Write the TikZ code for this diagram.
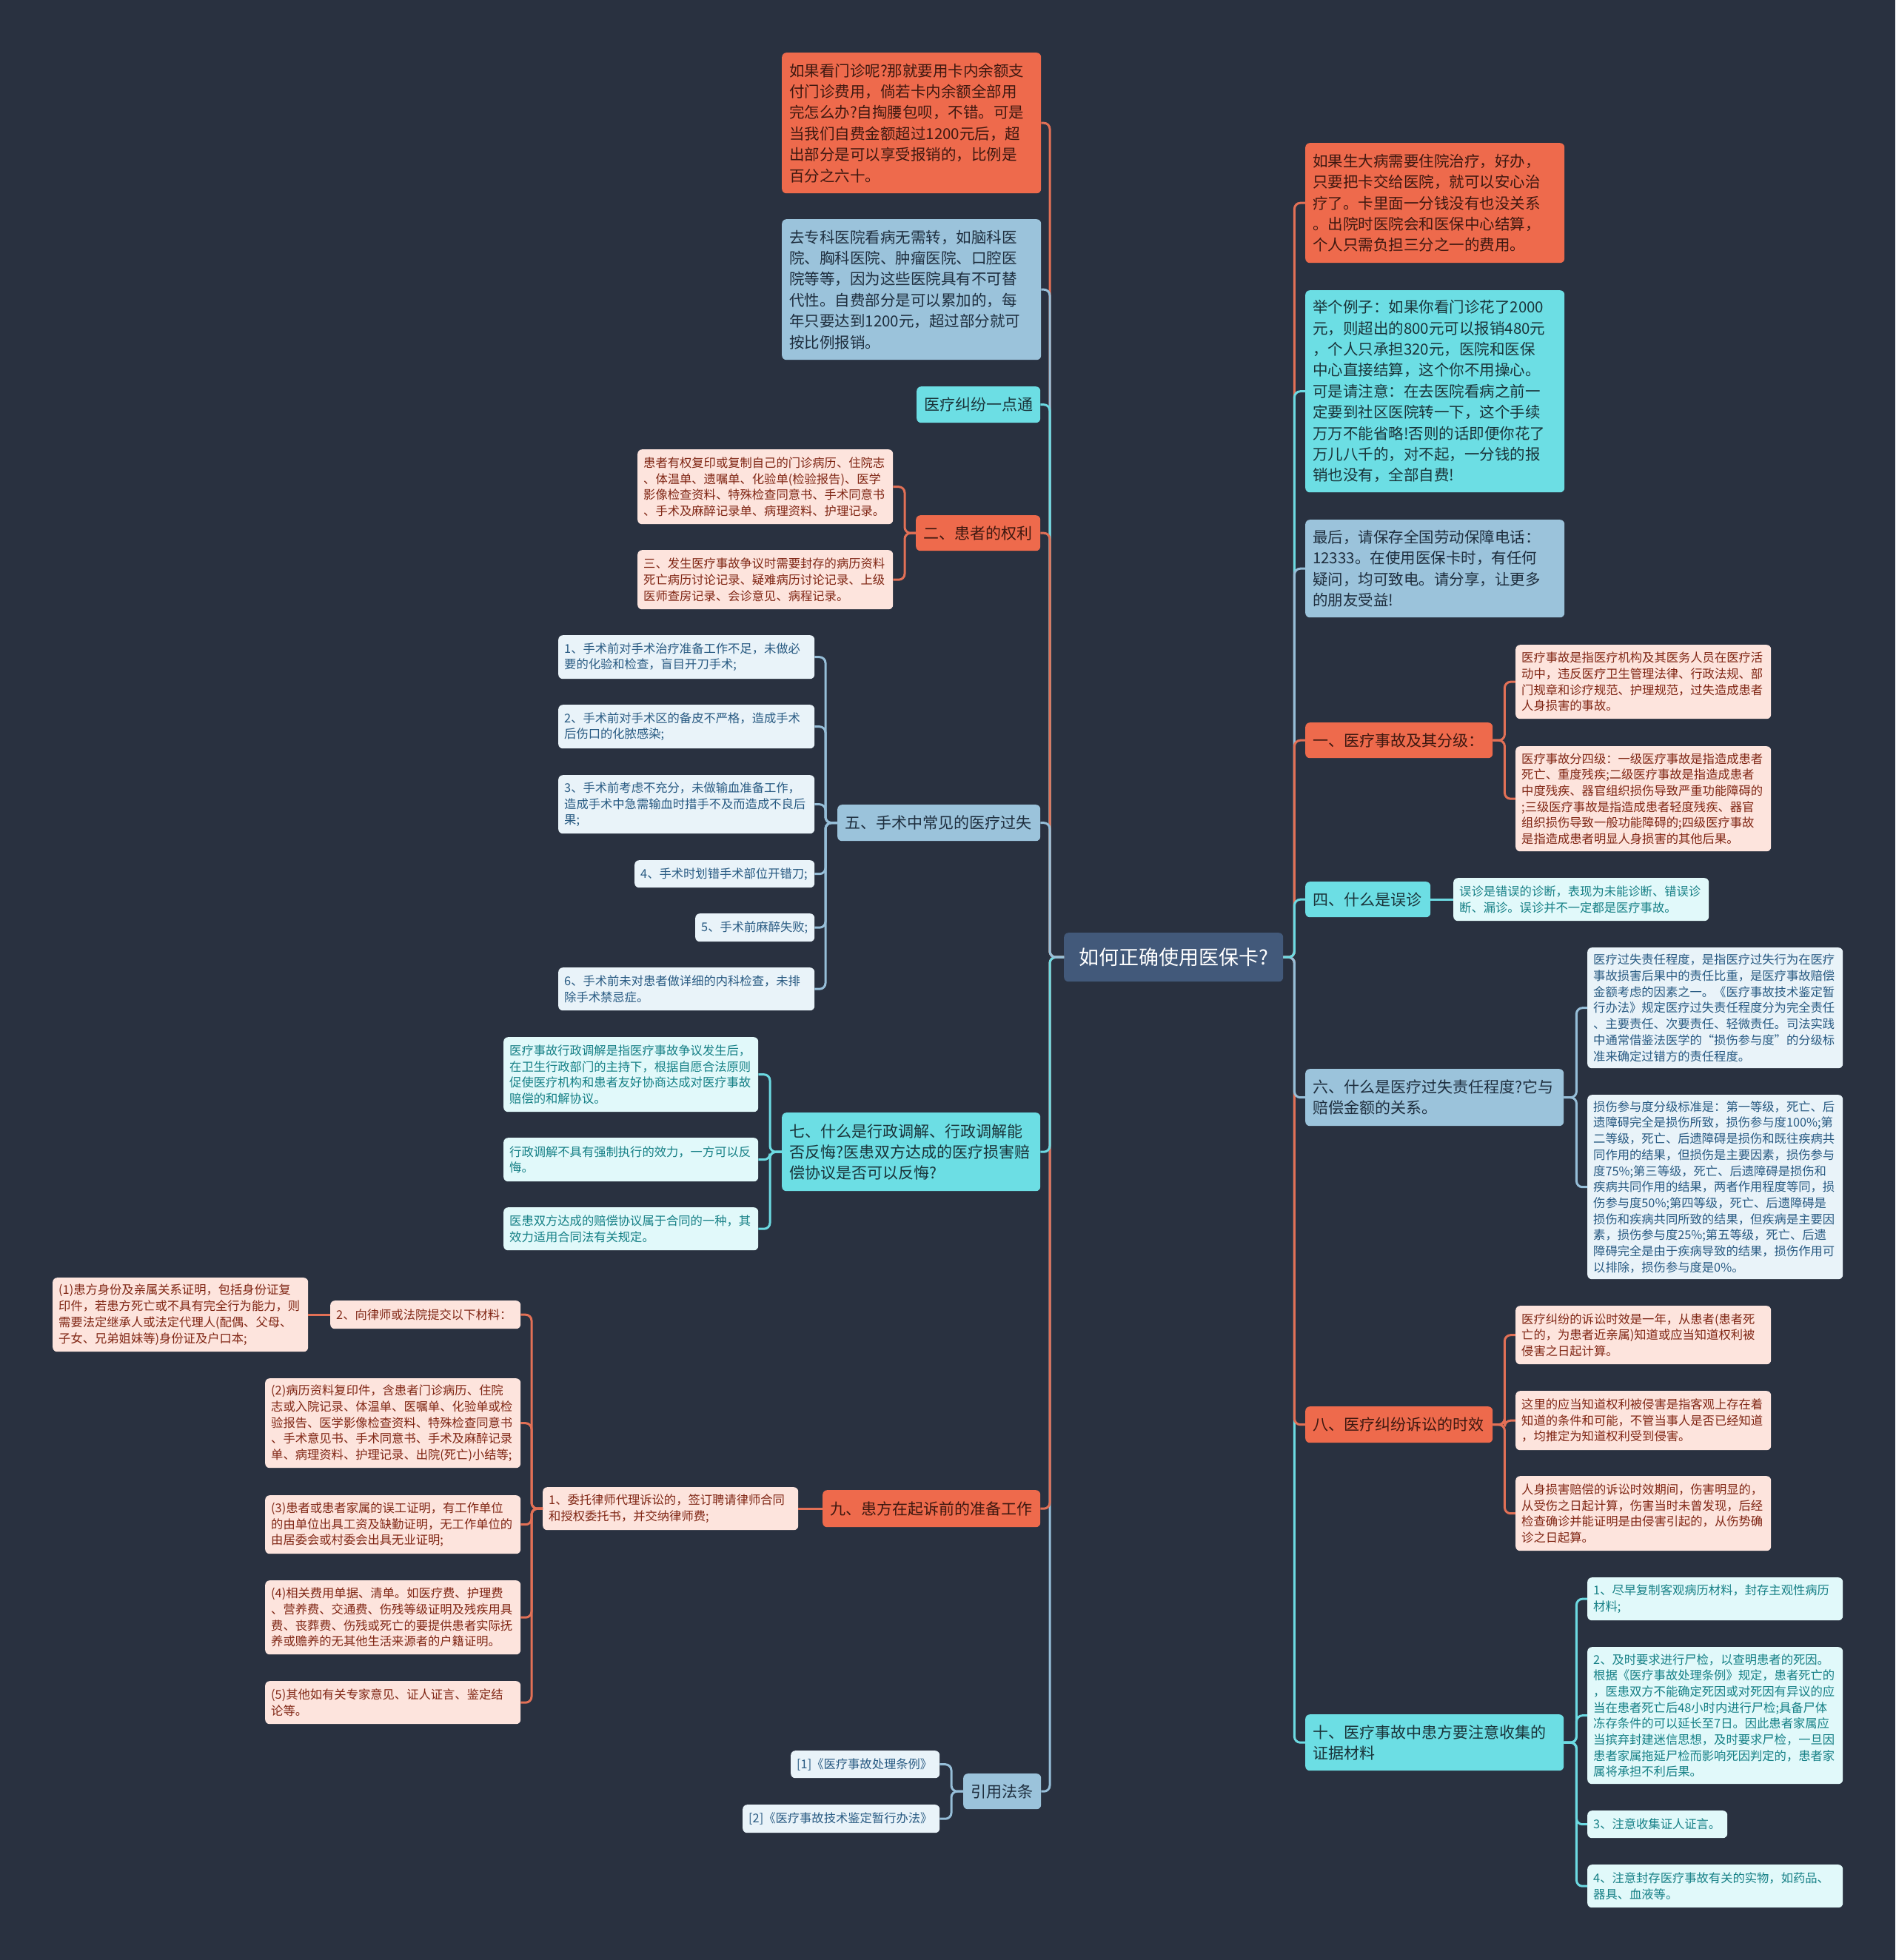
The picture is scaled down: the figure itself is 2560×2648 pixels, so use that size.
\documentclass[tikz,border=0pt]{standalone}
\usepackage{fontspec}
\setmainfont{Noto Sans CJK SC}
\definecolor{cBg}{RGB}{41,49,64}
\definecolor{cRoot}{RGB}{66,89,122}
\definecolor{cOr}{RGB}{238,106,76}
\definecolor{cCy}{RGB}{108,222,228}
\definecolor{cBl}{RGB}{155,195,219}
\definecolor{tOr}{RGB}{62,24,16}
\definecolor{tCy}{RGB}{26,52,58}
\definecolor{tBl}{RGB}{30,46,62}
\definecolor{lOr}{RGB}{253,228,221}
\definecolor{lCy}{RGB}{225,249,250}
\definecolor{lBl}{RGB}{233,243,249}
\definecolor{ltOr}{RGB}{128,38,20}
\definecolor{ltCy}{RGB}{22,128,134}
\definecolor{ltBl}{RGB}{40,90,130}
\definecolor{kOr}{RGB}{226,112,86}
\definecolor{kCy}{RGB}{108,218,226}
\definecolor{kBl}{RGB}{150,190,216}
\tikzset{
  box/.style={anchor=north west, rounded corners=6pt, align=left, inner ysep=3pt},
  rootbox/.style={box, fill=cRoot, text=white, inner xsep=20pt, align=center, font=\fontsize{27}{34}\selectfont},
  orgL/.style={box, fill=cOr, text=tOr, inner xsep=10pt, font=\fontsize{21}{28}\selectfont},
  cyaL/.style={box, fill=cCy, text=tCy, inner xsep=10pt, font=\fontsize{21}{28}\selectfont},
  bluL/.style={box, fill=cBl, text=tBl, inner xsep=10pt, font=\fontsize{21}{28}\selectfont},
  orgBig/.style={orgL, font=\fontsize{20.5}{28.4}\selectfont},
  cyaBig/.style={cyaL, font=\fontsize{20.5}{28.4}\selectfont},
  bluBig/.style={bluL, font=\fontsize{20.5}{28.4}\selectfont},
  orgLeaf/.style={box, fill=lOr, text=ltOr, inner xsep=8pt, font=\fontsize{16.3}{21.7}\selectfont},
  cyaLeaf/.style={box, fill=lCy, text=ltCy, inner xsep=8pt, font=\fontsize{16.3}{21.7}\selectfont},
  bluLeaf/.style={box, fill=lBl, text=ltBl, inner xsep=8pt, font=\fontsize{16.3}{21.7}\selectfont},
  link/.style={line width=3pt, rounded corners=8pt},
  orgLink/.style={link, draw=kOr},
  cyaLink/.style={link, draw=kCy},
  bluLink/.style={link, draw=kBl},
}
\begin{document}
\begin{tikzpicture}[x=1pt,y=-1pt]
\fill[cBg] (0,0) rectangle (2560,2648);
\useasboundingbox (0,0) rectangle (2560,2648);

% root
\node[rootbox, text width=256pt, minimum height=66pt] (root) at (1437,1260) {如何正确使用医保卡?};

% ---------- left side ----------
\node[orgBig, text width=330pt, minimum height=190pt] (L1) at (1056,71) {如果看门诊呢?那就要用卡内余额支\\付门诊费用，倘若卡内余额全部用\\完怎么办?自掏腰包呗，不错。可是\\当我们自费金额超过1200元后，超\\出部分是可以享受报销的，比例是\\百分之六十。};
\node[bluBig, text width=330pt, minimum height=190pt] (L2) at (1056,296) {去专科医院看病无需转，如脑科医\\院、胸科医院、肿瘤医院、口腔医\\院等等，因为这些医院具有不可替\\代性。自费部分是可以累加的，每\\年只要达到1200元，超过部分就可\\按比例报销。};
\node[cyaL, text width=147pt, minimum height=49pt] (L3) at (1238,522) {医疗纠纷一点通};
\node[orgL, text width=148pt, minimum height=48pt] (L4) at (1237,696) {二、患者的权利};
\node[orgLeaf, text width=329pt, minimum height=101pt] (L4a) at (861,607) {患者有权复印或复制自己的门诊病历、住院志\\、体温单、遗嘱单、化验单(检验报告)、医学\\影像检查资料、特殊检查同意书、手术同意书\\、手术及麻醉记录单、病理资料、护理记录。};
\node[orgLeaf, text width=329pt, minimum height=80pt] (L4b) at (861,743) {三、发生医疗事故争议时需要封存的病历资料\\死亡病历讨论记录、疑难病历讨论记录、上级\\医师查房记录、会诊意见、病程记录。};

\node[bluL, text width=254pt, minimum height=49pt] (L5) at (1131,1087) {五、手术中常见的医疗过失};
\node[bluLeaf, text width=330pt, minimum height=59pt] (L5a) at (754,858) {1、手术前对手术治疗准备工作不足，未做必\\要的化验和检查，盲目开刀手术;};
\node[bluLeaf, text width=330pt, minimum height=59pt] (L5b) at (754,952) {2、手术前对手术区的备皮不严格，造成手术\\后伤口的化脓感染;};
\node[bluLeaf, text width=330pt, minimum height=79pt] (L5c) at (754,1047) {3、手术前考虑不充分，未做输血准备工作，\\造成手术中急需输血时措手不及而造成不良后\\果;};
\node[bluLeaf, text width=227pt, minimum height=37pt] (L5d) at (857,1162) {4、手术时划错手术部位开错刀;};
\node[bluLeaf, text width=145pt, minimum height=38pt] (L5e) at (939,1234) {5、手术前麻醉失败;};
\node[bluLeaf, text width=330pt, minimum height=58pt] (L5f) at (754,1307) {6、手术前未对患者做详细的内科检查，未排\\除手术禁忌症。};

\node[cyaL, text width=329pt, minimum height=106pt] (L7) at (1056,1503) {七、什么是行政调解、行政调解能\\否反悔?医患双方达成的医疗损害赔\\偿协议是否可以反悔?};
\node[cyaLeaf, text width=328pt, minimum height=101pt] (L7a) at (680,1401) {医疗事故行政调解是指医疗事故争议发生后，\\在卫生行政部门的主持下，根据自愿合法原则\\促使医疗机构和患者友好协商达成对医疗事故\\赔偿的和解协议。};
\node[cyaLeaf, text width=328pt, minimum height=59pt] (L7b) at (680,1537) {行政调解不具有强制执行的效力，一方可以反\\悔。};
\node[cyaLeaf, text width=328pt, minimum height=58pt] (L7c) at (680,1631) {医患双方达成的赔偿协议属于合同的一种，其\\效力适用合同法有关规定。};

\node[orgL, text width=274pt, minimum height=50pt] (L9) at (1111,2013) {九、患方在起诉前的准备工作};
\node[orgLeaf, text width=329pt, minimum height=58pt] (L9a) at (733,2009) {1、委托律师代理诉讼的，签订聘请律师合同\\和授权委托书，并交纳律师费;};
\node[orgLeaf, text width=241pt, minimum height=38pt] (L9b) at (446,1757) {2、向律师或法院提交以下材料：};
\node[orgLeaf, text width=329pt, minimum height=100pt] (L9b1) at (71,1726) {(1)患方身份及亲属关系证明，包括身份证复\\印件，若患方死亡或不具有完全行为能力，则\\需要法定继承人或法定代理人(配偶、父母、\\子女、兄弟姐妹等)身份证及户口本;};
\node[orgLeaf, text width=329pt, minimum height=121pt] (L9c) at (358,1862) {(2)病历资料复印件，含患者门诊病历、住院\\志或入院记录、体温单、医嘱单、化验单或检\\验报告、医学影像检查资料、特殊检查同意书\\、手术意见书、手术同意书、手术及麻醉记录\\单、病理资料、护理记录、出院(死亡)小结等;};
\node[orgLeaf, text width=329pt, minimum height=79pt] (L9d) at (358,2020) {(3)患者或患者家属的误工证明，有工作单位\\的由单位出具工资及缺勤证明，无工作单位的\\由居委会或村委会出具无业证明;};
\node[orgLeaf, text width=329pt, minimum height=100pt] (L9e) at (358,2135) {(4)相关费用单据、清单。如医疗费、护理费\\、营养费、交通费、伤残等级证明及残疾用具\\费、丧葬费、伤残或死亡的要提供患者实际抚\\养或赡养的无其他生活来源者的户籍证明。};
\node[orgLeaf, text width=329pt, minimum height=58pt] (L9f) at (358,2271) {(5)其他如有关专家意见、证人证言、鉴定结\\论等。};

\node[bluL, text width=85pt, minimum height=48pt] (L10) at (1301,2396) {引用法条};
\node[bluLeaf, text width=185pt, minimum height=37pt] (L10a) at (1068,2365) {[1]《医疗事故处理条例》};
\node[bluLeaf, text width=250pt, minimum height=38pt] (L10b) at (1003,2438) {[2]《医疗事故技术鉴定暂行办法》};

% ---------- right side ----------
\node[orgBig, text width=330pt, minimum height=162pt] (R1) at (1763,193) {如果生大病需要住院治疗，好办，\\只要把卡交给医院，就可以安心治\\疗了。卡里面一分钱没有也没关系\\。出院时医院会和医保中心结算，\\个人只需负担三分之一的费用。};
\node[cyaBig, text width=330pt, minimum height=273pt] (R2) at (1763,392) {举个例子：如果你看门诊花了2000\\元，则超出的800元可以报销480元\\，个人只承担320元，医院和医保\\中心直接结算，这个你不用操心。\\可是请注意：在去医院看病之前一\\定要到社区医院转一下，这个手续\\万万不能省略!否则的话即便你花了\\万儿八千的，对不起，一分钱的报\\销也没有，全部自费!};
\node[bluBig, text width=330pt, minimum height=132pt] (R3) at (1763,702) {最后，请保存全国劳动保障电话：\\12333。在使用医保卡时，有任何\\疑问，均可致电。请分享，让更多\\的朋友受益!};

\node[orgL, text width=233pt, minimum height=48pt] (R4) at (1763,976) {一、医疗事故及其分级：};
\node[orgLeaf, text width=329pt, minimum height=100pt] (R4a) at (2047,871) {医疗事故是指医疗机构及其医务人员在医疗活\\动中，违反医疗卫生管理法律、行政法规、部\\门规章和诊疗规范、护理规范，过失造成患者\\人身损害的事故。};
\node[orgLeaf, text width=329pt, minimum height=142pt] (R4b) at (2047,1008) {医疗事故分四级：一级医疗事故是指造成患者\\死亡、重度残疾;二级医疗事故是指造成患者\\中度残疾、器官组织损伤导致严重功能障碍的\\;三级医疗事故是指造成患者轻度残疾、器官\\组织损伤导致一般功能障碍的;四级医疗事故\\是指造成患者明显人身损害的其他后果。};

\node[cyaL, text width=149pt, minimum height=48pt] (R5) at (1763,1191) {四、什么是误诊};
\node[cyaLeaf, text width=329pt, minimum height=58pt] (R5a) at (1963,1186) {误诊是错误的诊断，表现为未能诊断、错误诊\\断、漏诊。误诊并不一定都是医疗事故。};

\node[bluL, text width=329pt, minimum height=77pt] (R6) at (1763,1444) {六、什么是医疗过失责任程度?它与\\赔偿金额的关系。};
\node[bluLeaf, text width=329pt, minimum height=163pt] (R6a) at (2144,1280) {医疗过失责任程度，是指医疗过失行为在医疗\\事故损害后果中的责任比重，是医疗事故赔偿\\金额考虑的因素之一。《医疗事故技术鉴定暂\\行办法》规定医疗过失责任程度分为完全责任\\、主要责任、次要责任、轻微责任。司法实践\\中通常借鉴法医学的“损伤参与度”的分级标\\准来确定过错方的责任程度。};
\node[bluLeaf, text width=329pt, minimum height=249pt] (R6b) at (2144,1479) {损伤参与度分级标准是：第一等级，死亡、后\\遗障碍完全是损伤所致，损伤参与度100\%;第\\二等级，死亡、后遗障碍是损伤和既往疾病共\\同作用的结果，但损伤是主要因素，损伤参与\\度75\%;第三等级，死亡、后遗障碍是损伤和\\疾病共同作用的结果，两者作用程度等同，损\\伤参与度50\%;第四等级，死亡、后遗障碍是\\损伤和疾病共同所致的结果，但疾病是主要因\\素，损伤参与度25\%;第五等级，死亡、后遗\\障碍完全是由于疾病导致的结果，损伤作用可\\以排除，损伤参与度是0\%。};

\node[orgL, text width=233pt, minimum height=49pt] (R8) at (1763,1900) {八、医疗纠纷诉讼的时效};
\node[orgLeaf, text width=329pt, minimum height=79pt] (R8a) at (2047,1764) {医疗纠纷的诉讼时效是一年，从患者(患者死\\亡的，为患者近亲属)知道或应当知道权利被\\侵害之日起计算。};
\node[orgLeaf, text width=329pt, minimum height=80pt] (R8b) at (2047,1879) {这里的应当知道权利被侵害是指客观上存在着\\知道的条件和可能，不管当事人是否已经知道\\，均推定为知道权利受到侵害。};
\node[orgLeaf, text width=329pt, minimum height=101pt] (R8c) at (2047,1994) {人身损害赔偿的诉讼时效期间，伤害明显的，\\从受伤之日起计算，伤害当时未曾发现，后经\\检查确诊并能证明是由侵害引起的，从伤势确\\诊之日起算。};

\node[cyaL, text width=329pt, minimum height=76pt] (R10) at (1763,2316) {十、医疗事故中患方要注意收集的\\证据材料};
\node[cyaLeaf, text width=329pt, minimum height=58pt] (R10a) at (2144,2131) {1、尽早复制客观病历材料，封存主观性病历\\材料;};
\node[cyaLeaf, text width=329pt, minimum height=185pt] (R10b) at (2144,2225) {2、及时要求进行尸检，以查明患者的死因。\\根据《医疗事故处理条例》规定，患者死亡的\\，医患双方不能确定死因或对死因有异议的应\\当在患者死亡后48小时内进行尸检;具备尸体\\冻存条件的可以延长至7日。因此患者家属应\\当摈弃封建迷信思想，及时要求尸检，一旦因\\患者家属拖延尸检而影响死因判定的，患者家\\属将承担不利后果。};
\node[cyaLeaf, text width=173pt, minimum height=37pt] (R10c) at (2144,2446) {3、注意收集证人证言。};
\node[cyaLeaf, text width=329pt, minimum height=58pt] (R10d) at (2144,2519) {4、注意封存医疗事故有关的实物，如药品、\\器具、血液等。};

% ---------- trunk connectors (left) ----------
\draw[orgLink] (root.west) -- ++(-19,0) |- (L1.east);
\draw[bluLink] (root.west) -- ++(-19,0) |- (L10.east);
\draw[bluLink] (root.west) -- ++(-19,0) |- (L2.east);
\draw[cyaLink] (root.west) -- ++(-19,0) |- (L3.east);
\draw[orgLink] (root.west) -- ++(-19,0) |- (L9.east);
\draw[orgLink] (root.west) -- ++(-19,0) |- (L4.east);
\draw[cyaLink] (root.west) -- ++(-19,0) |- (L7.east);
\draw[bluLink] (root.west) -- ++(-19,0) |- (L5.east);

% ---------- trunk connectors (right) ----------
\draw[cyaLink] (root.east) -- ++(15,0) |- (R10.west);
\draw[orgLink] (root.east) -- ++(15,0) |- (R1.west);
\draw[cyaLink] (root.east) -- ++(15,0) |- (R2.west);
\draw[orgLink] (root.east) -- ++(15,0) |- (R8.west);
\draw[bluLink] (root.east) -- ++(15,0) |- (R3.west);
\draw[orgLink] (root.east) -- ++(15,0) |- (R4.west);
\draw[bluLink] (root.east) -- ++(15,0) |- (R6.west);
\draw[cyaLink] (root.east) -- ++(15,0) |- (R5.west);

% ---------- leaf connectors ----------
\foreach \c in {L4a,L4b} \draw[orgLink] (L4.west) -- ++(-15,0) |- (\c.east);
\foreach \c in {L5a,L5b,L5c,L5d,L5e,L5f} \draw[bluLink] (L5.west) -- ++(-16,0) |- (\c.east);
\foreach \c in {L7a,L7b,L7c} \draw[cyaLink] (L7.west) -- ++(-16,0) |- (\c.east);
\draw[orgLink] (L9.west) -- (L9a.east);
\foreach \c in {L9b,L9c,L9d,L9e,L9f} \draw[orgLink] (L9a.west) -- ++(-15,0) |- (\c.east);
\draw[orgLink] (L9b.west) -- (L9b1.east);
\foreach \c in {L10a,L10b} \draw[bluLink] (L10.west) -- ++(-16,0) |- (\c.east);

\foreach \c in {R4a,R4b} \draw[orgLink] (R4.east) -- ++(16,0) |- (\c.west);
\draw[cyaLink] (R5.east) -- (R5a.west);
\foreach \c in {R6a,R6b} \draw[bluLink] (R6.east) -- ++(17,0) |- (\c.west);
\foreach \c in {R8a,R8b,R8c} \draw[orgLink] (R8.east) -- ++(16,0) |- (\c.west);
\foreach \c in {R10a,R10b,R10c,R10d} \draw[cyaLink] (R10.east) -- ++(17,0) |- (\c.west);
\end{tikzpicture}
\end{document}
